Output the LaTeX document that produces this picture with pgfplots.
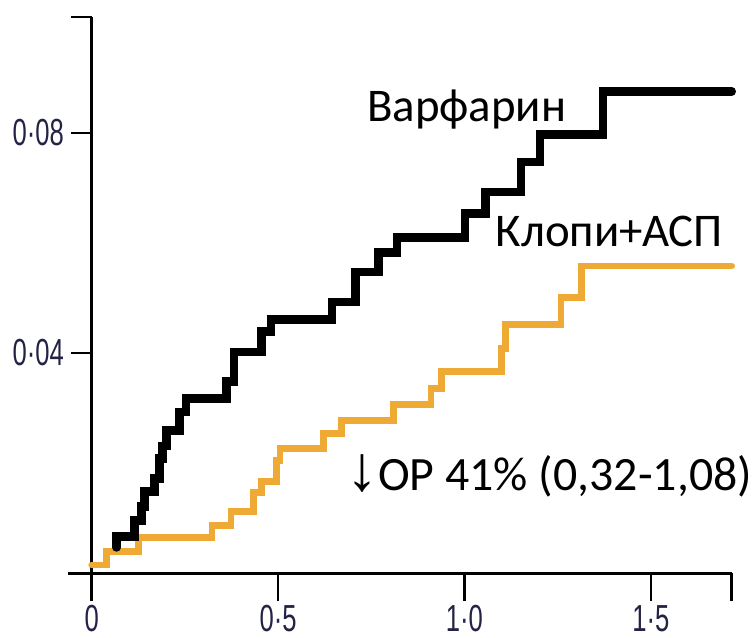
\documentclass[border=0pt]{standalone}
\usepackage{pgfplots}
\pgfplotsset{compat=1.18}
\usepackage{fontspec}
\setmainfont{Carlito}
\newfontfamily\tickfont[FakeStretch=0.68]{Liberation Sans}
\newfontfamily\symfont{Liberation Sans}
\definecolor{orangeline}{RGB}{238,170,52}
\definecolor{ticktext}{RGB}{35,35,70}
\begin{document}
\begin{tikzpicture}
\begin{axis}[
  scale only axis,
  width=321bp, height=279bp,
  xmin=0, xmax=1.717, ymin=0, ymax=0.101,
  axis x line=bottom, axis y line=left,
  axis line style={-, line width=1.2bp},
  tick align=outside,
  scaled x ticks=false, scaled y ticks=false,
  xtick={0,0.5,1,1.5,1.717},
  xticklabels={0,0·5,1·0,1·5,{}},
  ytick={0.04,0.08,0.101},
  yticklabels={0·04,0·08,{}},
  x tick style={line width=1.2bp, black, /pgfplots/major tick length=14bp},
  y tick style={line width=1.2bp, black, /pgfplots/major tick length=10.5bp},
  ticklabel style={font=\tickfont\fontsize{18.9bp}{20bp}\selectfont, text=ticktext, inner sep=0pt},
  xticklabel style={anchor=north, yshift=-11.5bp},
  yticklabel style={anchor=east, xshift=-9.5bp},
  clip=false,
]
\path (axis cs:-0.246,-0.01158) (axis cs:1.765,0.1041);
\draw[line width=1.2bp] (axis cs:-0.064,0) -- (axis cs:0,0);
\addplot[const plot, draw=orangeline, line width=3.4bp, line join=miter, line cap=round] coordinates {
(0,0.0015) (0.040,0.0040) (0.125,0.0065) (0.323,0.0087) (0.374,0.0112)
(0.435,0.0147) (0.455,0.0167) (0.495,0.0205) (0.505,0.0226) (0.621,0.0254)
(0.671,0.0278) (0.809,0.0306) (0.910,0.0335) (0.939,0.0366) (1.099,0.0408)
(1.110,0.0452) (1.259,0.0501) (1.314,0.0558) (1.717,0.0558)
};
\addplot[const plot, draw=black, line width=4.3bp, line join=miter, line cap=round] coordinates {
(0.067,0.0047) (0.067,0.0067) (0.115,0.0096) (0.133,0.0121) (0.141,0.0149)
(0.169,0.0172) (0.182,0.0209) (0.190,0.0231) (0.200,0.0259) (0.235,0.0293)
(0.253,0.0317) (0.361,0.0348) (0.382,0.0402) (0.455,0.0439) (0.481,0.0461)
(0.645,0.0493) (0.707,0.0547) (0.770,0.0583) (0.819,0.0610) (1.001,0.0653)
(1.056,0.0692) (1.152,0.0747) (1.203,0.0797) (1.372,0.0875) (1.717,0.0875)
};
\node[font=\fontsize{23.5bp}{28bp}\selectfont, anchor=base west, inner sep=0pt] at (axis cs:0.738,0.0820) {Варфарин};
\node[font=\fontsize{23.5bp}{28bp}\selectfont, anchor=base west, inner sep=0pt] at (axis cs:1.083,0.0594) {Клопи+АСП};
\node[font=\fontsize{24bp}{28bp}\selectfont, anchor=base west, inner sep=0pt] at (axis cs:0.682,0.0150) {{\symfont\fontsize{32bp}{34bp}\selectfont ↓}ОР 41\% (0,32-1,08)};
\end{axis}
\end{tikzpicture}
\end{document}
